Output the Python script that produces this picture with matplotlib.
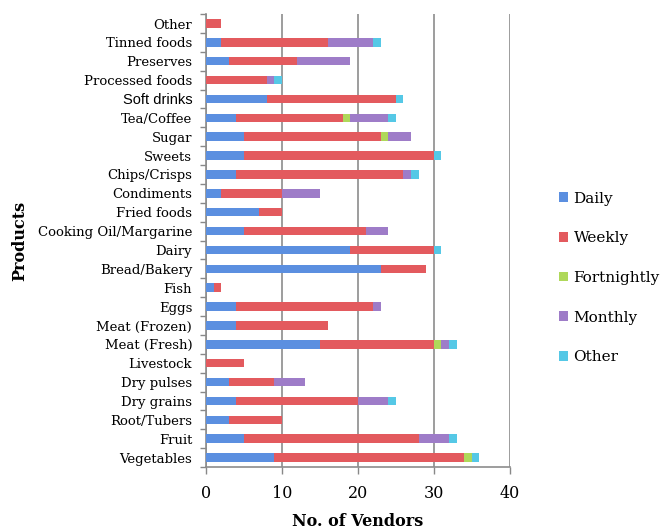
import matplotlib.pyplot as plt
import numpy as np

# bottom to top, as drawn
products = ['Vegetables', 'Fruit', 'Root/Tubers', 'Dry grains', 'Dry pulses', 'Livestock',
            'Meat (Fresh)', 'Meat (Frozen)', 'Eggs', 'Fish', 'Bread/Bakery', 'Dairy',
            'Cooking Oil/Margarine', 'Fried foods', 'Condiments', 'Chips/Crisps', 'Sweets',
            'Sugar', 'Tea/Coffee', 'Soft drinks', 'Processed foods', 'Preserves',
            'Tinned foods', 'Other']

daily = [9, 5, 3, 4, 3, 0, 15, 4, 4, 1, 23, 19, 5, 7, 2, 4, 5, 5, 4, 8, 0, 3, 2, 0]
weekly = [25, 23, 7, 16, 6, 5, 15, 12, 18, 1, 6, 11, 16, 3, 8, 22, 25, 18, 14, 17, 8, 9, 14, 2]
fortnightly = [1, 0, 0, 0, 0, 0, 1, 0, 0, 0, 0, 0, 0, 0, 0, 0, 0, 1, 1, 0, 0, 0, 0, 0]
monthly = [0, 4, 0, 4, 4, 0, 1, 0, 1, 0, 0, 0, 3, 0, 5, 1, 0, 3, 5, 0, 1, 7, 6, 0]
other = [1, 1, 0, 1, 0, 0, 1, 0, 0, 0, 0, 1, 0, 0, 0, 1, 1, 0, 1, 1, 1, 0, 1, 0]

series = ['Daily', 'Weekly', 'Fortnightly', 'Monthly', 'Other']
colors = ['#5b8fe0', '#e35a5e', '#afd85a', '#9e7cc8', '#55c8e6']

fig = plt.figure(figsize=(6.69, 5.31), dpi=100)
ax = fig.add_axes([0.308, 0.1205, 0.454, 0.853])

y = np.arange(len(products))
left = np.zeros(len(products))
for name, vals, c in zip(series, [daily, weekly, fortnightly, monthly, other], colors):
    vals = np.array(vals, dtype=float)
    ax.barh(y, vals, left=left, height=0.45, color=c, label=name, zorder=3)
    left += vals

ax.set_xlim(0, 40)
ax.set_ylim(-0.5, len(products) - 0.5)
ax.set_xticks([0, 10, 20, 30, 40])
ax.set_yticks(y)
ax.set_yticklabels(products, fontfamily='DejaVu Serif', fontsize=9.5)
for t in ax.get_yticklabels():
    if t.get_text() == 'Soft drinks':
        t.set_fontfamily('Liberation Sans')
        t.set_fontsize(10.5)
ax.set_yticks(np.arange(len(products) + 1) - 0.5, minor=True)
ax.tick_params(axis='y', which='major', length=0, pad=10)
ax.tick_params(axis='y', which='minor', length=4, color='#888888', width=1)
ax.tick_params(axis='x', length=5, color='#888888', width=1, labelsize=11.5, pad=8)
for t in ax.get_xticklabels():
    t.set_fontfamily('DejaVu Serif')

ax.grid(axis='x', color='#8c8c8c', linewidth=1.2, zorder=0)
for s in ['top', 'right']:
    ax.spines[s].set_visible(False)
for s in ['left', 'bottom']:
    ax.spines[s].set_color('#8c8c8c')
    ax.spines[s].set_linewidth(1.2)

ax.set_xlabel('No. of Vendors', fontfamily='DejaVu Serif', fontweight='bold', fontsize=11.5, labelpad=8)
ax.set_ylabel('Products', fontfamily='DejaVu Serif', fontweight='bold', fontsize=11.5, labelpad=8)
ax.yaxis.set_label_coords(-0.585, 0.5)

fig.legend(loc='upper left', bbox_to_anchor=(0.815, 0.665), frameon=False,
           prop={'family': 'DejaVu Serif', 'size': 11}, handlelength=0.6, handleheight=0.6,
           handletextpad=0.35, labelspacing=1.68)

fig.savefig('out.png', dpi=100)
